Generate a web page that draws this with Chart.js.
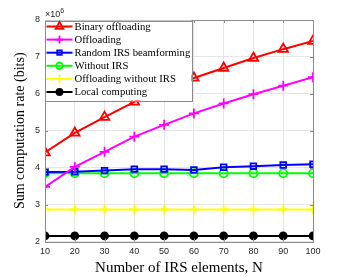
<!DOCTYPE html>
<html><head><meta charset="utf-8">
<script src="https://cdn.jsdelivr.net/npm/chart.js@4"></script>
<style>html,body{margin:0;padding:0;background:#fff}</style>
</head><body>
<canvas id="c" width="346" height="277"></canvas>
<script>
const elements = [10, 20, 30, 40, 50, 60, 70, 80, 90, 100];
const binaryOffloading = [4.41, 4.94, 5.37, 5.78, 6.13, 6.43, 6.70, 6.97, 7.21, 7.43];
const offloading = [3.48, 4.02, 4.43, 4.84, 5.16, 5.47, 5.74, 5.99, 6.22, 6.45];
const randomIRS = [3.88, 3.89, 3.92, 3.96, 3.96, 3.94, 4.01, 4.04, 4.07, 4.09];
const withoutIRS = [3.85, 3.85, 3.85, 3.85, 3.85, 3.85, 3.85, 3.85, 3.85, 3.85];
const offloadingWithoutIRS = [2.87, 2.87, 2.87, 2.87, 2.87, 2.87, 2.87, 2.87, 2.87, 2.87];
const localComputing = [2.15, 2.15, 2.15, 2.15, 2.15, 2.15, 2.15, 2.15, 2.15, 2.15];
const yTicks = [2, 3, 4, 5, 6, 7, 8];
const xTicks = [10, 20, 30, 40, 50, 60, 70, 80, 90, 100];

const seriesDefs = [
  {label: 'Binary offloading', data: binaryOffloading, color: '#ff0000', style: 'triangle', r: 5.5, lr: 4.5, fill: false},
  {label: 'Offloading', data: offloading, color: '#ff00ff', style: 'cross', r: 5, lr: 4, fill: false},
  {label: 'Random IRS beamforming', data: randomIRS, color: '#0000ff', style: 'rect', r: 4, lr: 3.2, fill: false},
  {label: 'Without IRS', data: withoutIRS, color: '#00ff00', style: 'circle', r: 4, lr: 3.3, fill: false},
  {label: 'Offloading without IRS', data: offloadingWithoutIRS, color: '#ffff00', style: 'cross', r: 5, lr: 4, fill: false},
  {label: 'Local computing', data: localComputing, color: '#000000', style: 'circle', r: 3.5, lr: 3, fill: true}
];

const datasets = seriesDefs.map(s => ({
  label: s.label,
  data: s.data.map((v, i) => ({x: elements[i], y: v})),
  borderColor: s.color,
  backgroundColor: s.fill ? s.color : 'rgba(0,0,0,0)',
  borderWidth: 2,
  pointStyle: s.style,
  pointRadius: s.r,
  pointBorderWidth: 1.8,
  pointBorderColor: s.color,
  pointBackgroundColor: s.fill ? s.color : 'rgba(0,0,0,0)',
  pointHoverRadius: s.r,
  tension: 0,
  fill: false
}));

const frame = {
  id: 'frame',
  afterDraw(chart) {
    const ctx = chart.ctx, a = chart.chartArea;
    ctx.save();
    ctx.strokeStyle = '#8c8c8c';
    ctx.lineWidth = 1;
    ctx.strokeRect(Math.round(a.left) + 0.5, Math.round(a.top) + 0.5, Math.round(a.right - a.left), Math.round(a.bottom - a.top));
    const xs = chart.scales.x, ys = chart.scales.y;
    ctx.beginPath();
    xTicks.forEach(t => {
      const px = Math.round(xs.getPixelForValue(t)) + 0.5;
      ctx.moveTo(px, a.bottom); ctx.lineTo(px, a.bottom - 3);
      ctx.moveTo(px, a.top); ctx.lineTo(px, a.top + 3);
    });
    yTicks.forEach(t => {
      const py = Math.round(ys.getPixelForValue(t)) + 0.5;
      ctx.moveTo(a.left, py); ctx.lineTo(a.left + 3, py);
      ctx.moveTo(a.right, py); ctx.lineTo(a.right - 3, py);
    });
    ctx.stroke();
    // exponent
    ctx.fillStyle = '#262626';
    ctx.font = '9px "Liberation Sans", Arial, sans-serif';
    ctx.textBaseline = 'alphabetic';
    ctx.textAlign = 'left';
    ctx.fillText('\u00d710', a.left, a.top - 3);
    const w = ctx.measureText('\u00d710').width;
    ctx.font = '7px "Liberation Sans", Arial, sans-serif';
    ctx.fillText('6', a.left + w, a.top - 7);
    // legend
    const bx = a.left - 0.5, by = a.top + 0.5, bw = 147, bh = 80;
    ctx.fillStyle = '#ffffff';
    ctx.fillRect(bx, by, bw, bh);
    ctx.strokeStyle = '#8c8c8c';
    ctx.lineWidth = 1;
    ctx.strokeRect(Math.round(bx) + 0.5, Math.round(by) + 0.5, bw, bh);
    ctx.font = '10.7px "Liberation Serif", "Times New Roman", serif';
    ctx.textBaseline = 'middle';
    seriesDefs.forEach((s, i) => {
      const cy = by + 6 + i * 13.1;
      ctx.strokeStyle = s.color;
      ctx.lineWidth = 2;
      ctx.beginPath();
      ctx.moveTo(bx + 2, cy); ctx.lineTo(bx + 28, cy);
      ctx.stroke();
      ctx.lineWidth = 1.8;
      ctx.fillStyle = s.fill ? s.color : 'rgba(0,0,0,0)';
      Chart.helpers.drawPoint(ctx, {pointStyle: s.style, radius: s.lr, rotation: 0, borderWidth: 1.8}, bx + 15, cy);
      ctx.fillStyle = '#000000';
      ctx.fillText(s.label, bx + 30, cy + 0.5);
    });
    ctx.restore();
  }
};

new Chart(document.getElementById('c'), {
  type: 'line',
  data: {datasets},
  plugins: [frame],
  options: {
    responsive: false,
    animation: false,
    events: [],
    layout: {padding: {top: 20, right: 33, left: 0, bottom: 0}},
    plugins: {legend: {display: false}, tooltip: {enabled: false}},
    scales: {
      x: {
        type: 'linear', min: 10, max: 100,
        afterBuildTicks: s => { s.ticks = xTicks.map(v => ({value: v})); },
        afterFit: s => { s.height = 35.5; },
        grid: {color: '#e6e6e6', drawTicks: false},
        border: {display: false},
        ticks: {padding: 5, color: '#262626', font: {family: '"Liberation Sans", Arial, sans-serif', size: 9}, maxRotation: 0},
        title: {display: true, text: 'Number of IRS elements, N', color: '#000', padding: {top: 0, bottom: 0}, font: {family: '"Liberation Serif", "Times New Roman", serif', size: 15}}
      },
      y: {
        type: 'linear', min: 2, max: 8,
        afterBuildTicks: s => { s.ticks = yTicks.map(v => ({value: v})); },
        afterFit: s => { s.width = 45; },
        grid: {color: '#e6e6e6', drawTicks: false},
        border: {display: false},
        ticks: {padding: 5, color: '#262626', font: {family: '"Liberation Sans", Arial, sans-serif', size: 9}},
        title: {display: true, text: 'Sum computation rate (bits)', color: '#000', padding: {top: 12, bottom: 0}, font: {family: '"Liberation Serif", "Times New Roman", serif', size: 14}}
      }
    }
  }
});
</script>
</body></html>
